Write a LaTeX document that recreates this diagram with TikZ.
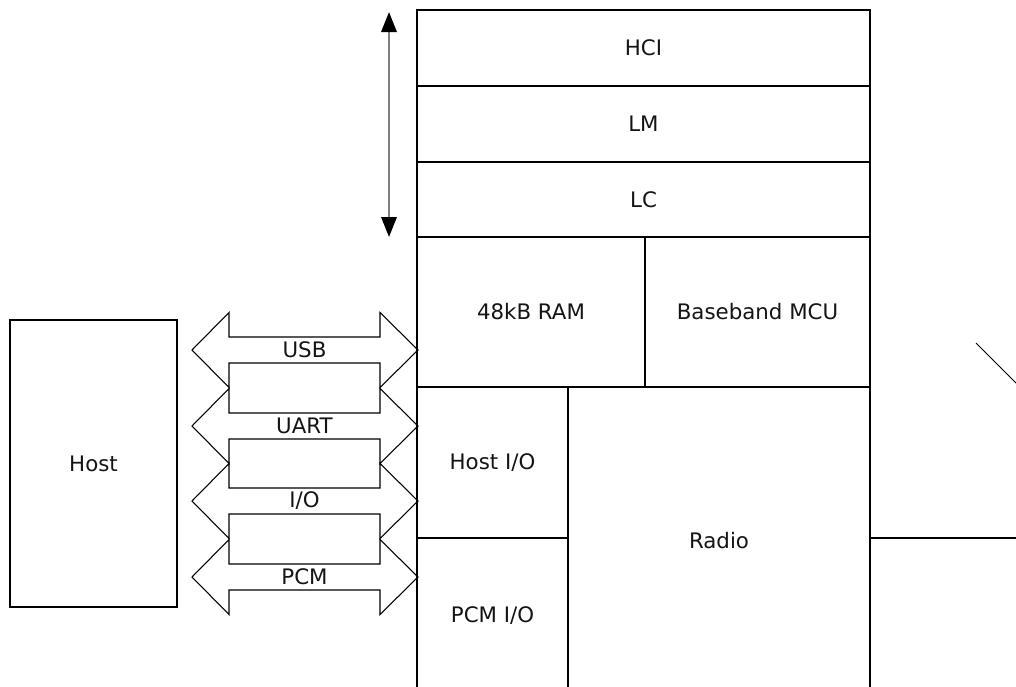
\documentclass[tikz,border=0pt]{standalone}
\usepackage{fontspec}
\setmainfont{DejaVu Sans}
\usetikzlibrary{arrows.meta}
\newlength\upx
\setlength\upx{0.75pt}
\begin{document}
\begin{tikzpicture}[x=0.75pt,y=-0.75pt,
  lbl/.style={font=\fontsize{16}{19}\selectfont, text=black!92},
  box/.style={draw, line width=0.8pt, inner sep=0pt, lbl},
  bus/.style={draw, line width=0.8pt},
  dbl/.style={draw=black!50, line width=1.8pt,
    {Triangle[length=15pt,width=11.5pt,color=black]}-{Triangle[length=15pt,width=11.5pt,color=black]}}]
\useasboundingbox (0,0) rectangle (1016,686);
% main stack
\node[box, minimum width=453\upx, minimum height=76\upx] (hci) at (643.5,48) {HCI};
\node[box, minimum width=453\upx, minimum height=76\upx] (lm) at (643.5,124) {LM};
\node[box, minimum width=453\upx, minimum height=75\upx] (lc) at (643.5,199.5) {LC};
\node[box, minimum width=228\upx, minimum height=150\upx] (ram) at (531,312) {48kB RAM};
\node[box, minimum width=225\upx, minimum height=150\upx] (mcu) at (757.5,312) {Baseband MCU};
\node[box, minimum width=151\upx, minimum height=151\upx] (hio) at (492.5,462.5) {Host I/O};
\node[box, minimum width=151\upx, minimum height=156\upx] (pio) at (492.5,616) {PCM I/O};
\node[box, minimum width=302\upx, minimum height=307\upx] (radio) at (719,540.5) {Radio};
% host
\node[box, minimum width=167\upx, minimum height=287\upx] (host) at (93.5,463.5) {Host};
% double arrow
\coordinate (dtop) at (389,12);
\coordinate (dbot) at (389,237);
\draw[dbl] (dtop) -- (dbot);
% right side
\coordinate (rline) at (1020,538);
\draw[line width=0.8pt] (radio.east |- rline) -- (rline);
\coordinate (ant1) at (976,343);
\coordinate (ant2) at (1030,397);
\draw[line width=0.6pt] (ant1) -- (ant2);
% bus arrows
\foreach \c/\t/\n in {350/USB/usb, 426/UART/uart, 501/I\slash O/io, 577/PCM/pcm}{
  \draw[bus] (192,\c) -- (229,\c-37.5) -- (229,\c-13) -- (380,\c-13) -- (380,\c-37.5)
    -- (418,\c) -- (380,\c+37.5) -- (380,\c+13) -- (229,\c+13) -- (229,\c+37.5) -- cycle;
  \node[lbl, inner sep=0pt] (\n) at (304.5,\c) {\t};
}
\end{tikzpicture}
\end{document}
